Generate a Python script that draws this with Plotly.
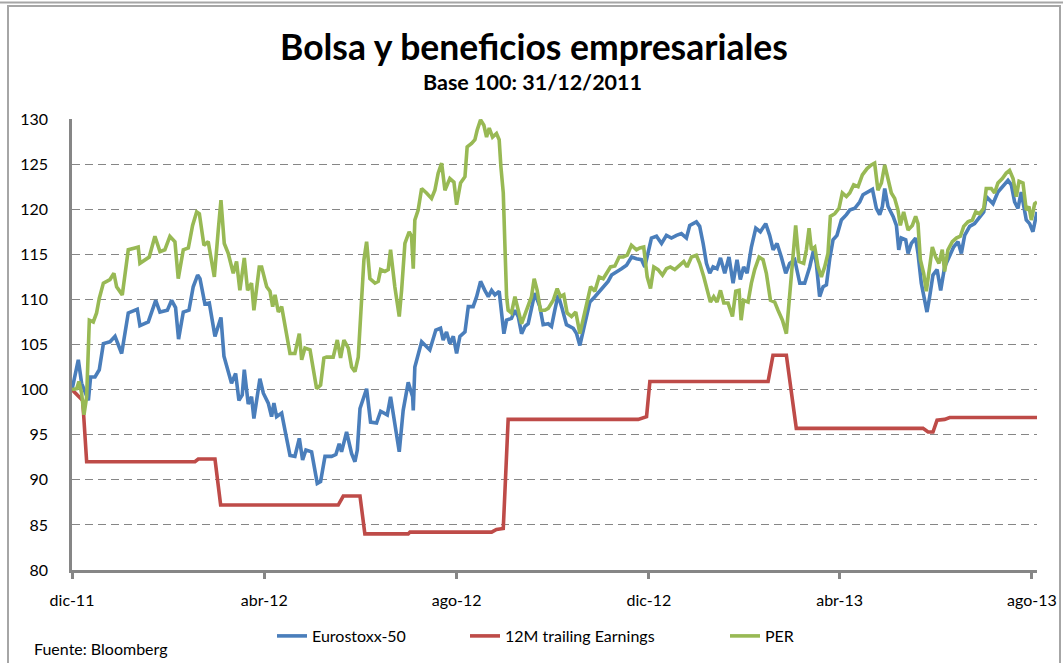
import pandas as pd
import plotly.graph_objects as go

# ---------------- DATA (days since 30/12/2011, index value, base 100) ----------------
start = pd.Timestamp("2011-12-30")

euro_days = [0, 4.0, 6.1, 10.4, 11.8, 14.6, 17.3, 19.9, 24.1, 27.3, 31.5, 35.7, 41.4, 43.1, 48.4, 53.1, 55.8,
             60.5, 63.2, 65.7, 67.6, 70.6, 74.2, 76.9, 79.7, 81.2, 84.3, 87.1, 90.7, 94.5, 96.4, 101.2, 103.8,
             105.9, 108.0, 109.3, 111.8, 113.9, 115.4, 119.2, 121.4, 124.5, 126.6, 128.1, 129.8, 133, 135.1,
             138.3, 141.4, 144.2, 146.3, 148.4, 152, 154.1, 155.6, 157.7, 160.5, 164.7, 167.4, 169.5, 171,
             174.2, 177.4, 179.5, 181, 182.7, 186.9, 189.4, 193.2, 195.8, 200, 202.1, 204.8, 207.6, 210.1,
             213.3, 216.1, 216.5, 217.5, 221.8, 227, 230.8, 233.8, 235.5, 237.6, 239.7, 241.9, 244, 246.1,
             249.3, 251.4, 254.5, 256.7, 259.2, 261.9, 264.1, 266.2, 268.3, 271, 272.5, 274, 275.7, 278.8,
             281, 283.1, 285.2, 287.3, 289.4, 291.5, 293.6, 296.8, 298.9, 302.1, 304.2, 306.3, 308.4, 310.6,
             313.7, 318, 320.1, 322.2, 325.4, 328.5, 331.7, 334.9, 337, 340.1, 342.3, 345.4, 348.6, 351.8,
             355, 358.1, 361.3, 363.4, 367.6, 370.8, 374, 377.1, 380.3, 383.5, 386.6, 389.8, 391.9, 396.1,
             398.2, 400.4, 402.5, 404.6, 406.7, 409.2, 411.4, 414.1, 416.8, 419.4, 421.9, 424, 426.1, 428.3,
             431, 433.8, 436.7, 440.1, 442.6, 444.8, 447.3, 450, 452.8, 455.3, 458.5, 461.7, 464.8, 468,
             470.5, 472.2, 474.3, 476.5, 478.6, 480.7, 482.8, 485.3, 488.1, 491.3, 493.4, 496.6, 499.7,
             501.8, 505, 507.8, 510.3, 512.4, 514.1, 515.6, 517.7, 520.9, 523, 524.5, 526.1, 528.9, 530.4,
             532.5, 535.2, 536.7, 538.8, 541, 542.4, 544.1, 546.2, 548.8, 551.1, 553.6, 556.4, 559.3, 562.1,
             564.2, 566.3, 569.5, 572.6, 576.2, 578.4, 580, 584.3, 587.4, 590.6, 593.8, 595.9, 598, 600.1,
             602.2, 605.4, 607.5, 609.6, 612.2]
euro_vals = [100.0, 103.3, 100.7, 98.8, 101.4, 101.4, 102.2, 105.1, 105.3, 105.9, 104.0, 108.5, 108.9, 107.1,
             107.5, 109.9, 108.6, 108.8, 109.9, 109.1, 105.6, 108.6, 108.8, 111.4, 112.7, 112.3, 109.5, 109.6,
             105.9, 108.0, 103.7, 100.7, 101.8, 98.8, 99.4, 102.2, 98.4, 99.2, 96.8, 101.2, 99.6, 98.5, 97.0,
             98.5, 97.0, 97.4, 95.5, 92.7, 92.6, 94.6, 92.2, 93.3, 93.1, 91.1, 89.6, 89.8, 92.6, 92.6, 92.8,
             94.0, 93.1, 95.3, 92.9, 92.0, 93.3, 97.9, 100.1, 96.4, 96.3, 97.6, 97.2, 99.2, 96.3, 93.1, 97.7,
             100.8, 99.2, 97.7, 102.5, 105.3, 104.4, 106.6, 106.8, 105.5, 106.4, 105.1, 105.9, 104.0, 105.9,
             106.4, 109.2, 109.2, 110.3, 112.0, 111.0, 110.3, 111.0, 110.5, 110.9, 108.1, 106.2, 107.7, 107.9,
             108.8, 108.1, 106.2, 107.0, 107.3, 108.8, 110.7, 109.2, 107.2, 107.3, 107.0, 108.8, 110.5, 109.2,
             107.2, 106.8, 106.2, 104.9, 107.3, 109.7, 110.3, 111.0, 111.4, 112.0, 112.7, 113.1, 113.4, 113.8,
             114.7, 114.5, 114.4, 113.6, 116.8, 117.0, 116.2, 117.1, 116.8, 117.1, 117.3, 116.8, 118.2, 118.6,
             118.1, 116.2, 114.0, 112.9, 113.6, 113.4, 114.6, 112.9, 114.7, 111.8, 114.4, 112.2, 113.6, 112.9,
             115.8, 117.9, 117.5, 118.4, 117.1, 115.5, 116.2, 114.7, 112.9, 114.0, 114.4, 111.8, 111.8, 113.6,
             115.5, 114.0, 110.3, 111.4, 111.6, 114.5, 116.6, 117.1, 118.8, 119.4, 119.9, 120.1, 120.8,
             121.6, 121.9, 122.2, 120.1, 119.4, 120.3, 122.3, 120.3, 119.2, 118.2, 115.5, 116.8, 116.6, 115.1,
             116.2, 116.8, 115.1, 111.8, 109.9, 108.6, 110.3, 112.7, 113.3, 111.0, 113.6, 114.7, 115.8, 116.4,
             115.1, 117.1, 118.1, 118.4, 119.2, 119.7, 121.4, 120.6, 121.9, 122.5, 123.2, 122.7, 120.8, 120.1,
             121.9, 118.8, 118.4, 117.5, 119.7]

earn_days = [0, 6.8, 9.3, 78, 80.1, 90.7, 94.3, 168.9, 172.1, 182.7, 185.8, 213.3, 214.4, 266.2, 269.3,
             273.6, 276.7, 359.2, 364.5, 366.6, 441.6, 444.7, 453.2, 459.5, 539.9, 543.1, 546.2, 548.8,
             553.6, 556.8, 612.2]
earn_vals = [100.0, 98.8, 92.0, 92.0, 92.3, 92.3, 87.2, 87.2, 88.2, 88.2, 84.0, 84.0, 84.2, 84.2, 84.5,
             84.6, 96.7, 96.7, 97.0, 100.9, 100.9, 103.8, 103.8, 95.7, 95.7, 95.3, 95.3, 96.6, 96.7, 96.9, 96.9]

per_days = [0, 3, 4.4, 6.1, 7.6, 9.3, 11, 13.5, 15.6, 17.3, 19.9, 24.1, 26.6, 28.3, 31.9, 33.6, 35.7, 39.9,
            42, 43.1, 46.3, 49, 52.6, 55.8, 58.9, 62.1, 65.3, 67.4, 70.6, 73.8, 76.5, 79.1, 80.8, 83.7, 86.4,
            90.3, 92.8, 94.5, 96.6, 99.1, 102.3, 104.4, 106.5, 109.3, 111.4, 113.9, 115.4, 118.8, 120.3,
            123.5, 125.6, 127.3, 128.8, 130.9, 133, 135.7, 138.3, 141.4, 144.2, 145.7, 147.8, 151, 153.1,
            155.2, 157.7, 159.8, 161.5, 165.7, 168.3, 170.4, 172.5, 175.3, 177.4, 179.5, 181.6, 183.1, 185.2,
            186.9, 189, 192.2, 194.3, 195.8, 198.5, 200.6, 202.1, 204.8, 207.6, 209.1, 211.2, 213.9, 215.4,
            216.5, 217.5, 219.6, 221.8, 224.9, 228.1, 230.2, 232.3, 234.5, 236.6, 239.7, 242.3, 244, 246.5,
            249.3, 250.7, 253.5, 255.6, 257.1, 259.2, 261.3, 263, 264.7, 266.8, 269.3, 271, 272.1, 273.6,
            274.6, 275.7, 276.7, 278.8, 281, 283.1, 285.2, 287.3, 289.4, 291.5, 293.2, 295.1, 297.2, 300,
            302.1, 305.3, 307.8, 309.9, 312, 314.1, 316.9, 319.6, 322.2, 324.3, 326.4, 329, 331.7, 334.4, 337,
            339.1, 341.6, 344.4, 347.1, 349.7, 352.2, 354.9, 358.1, 360.2, 362.7, 364.9, 367, 369.1, 371.8,
            374.6, 377.1, 379.6, 382.4, 385.6, 388.1, 390.2, 393, 396.1, 398.2, 400.8, 402.9, 405, 407.1,
            409.2, 411.4, 413.5, 416.2, 419, 421.1, 423.2, 424.5, 426.1, 428.9, 431, 433.1, 435.9, 438.4,
            440.5, 443.1, 445.8, 447.9, 450.7, 453.2, 455.3, 457.4, 459.1, 461.2, 464.2, 465.9, 467.6, 469.1,
            471.2, 473.3, 475.4, 477.5, 479.6, 481.1, 483.9, 486.6, 488.7, 491.3, 493.4, 495.9, 498.7, 501.4,
            504.4, 507.1, 509.2, 511.3, 513.5, 515.6, 517.7, 519.8, 521.9, 524, 525.5, 527.6, 530.4, 533.1,
            535.2, 536.7, 538.2, 540.3, 542, 544.1, 545.8, 547.9, 550, 552.1, 553.6, 555.7, 558.5, 561, 563.6,
            565.7, 568.4, 571.2, 573.3, 575.8, 578.4, 580, 583.2, 585.3, 587.4, 590.2, 592.7, 594.8, 597,
            599.1, 600.8, 603.3, 605.4, 607.1, 608.6, 610.7, 612.2]
per_vals = [100.0, 100.1, 100.9, 99.6, 97.2, 99.2, 107.7, 107.5, 108.5, 110.1, 111.8, 112.2, 112.9, 111.4,
            110.5, 112.9, 115.5, 115.7, 115.8, 114.0, 114.4, 114.7, 117.0, 115.3, 115.5, 117.0, 116.4, 112.3,
            115.5, 115.7, 118.2, 119.7, 119.5, 116.0, 116.4, 112.5, 117.7, 121.0, 116.2, 115.1, 112.9, 114.2,
            111.0, 114.6, 111.0, 111.8, 108.8, 113.6, 113.6, 111.4, 110.9, 109.2, 110.5, 108.6, 109.2, 106.6,
            104.0, 104.0, 106.2, 103.3, 104.6, 104.4, 102.5, 100.1, 100.5, 103.5, 103.6, 103.6, 105.5, 103.5,
            105.5, 104.6, 102.5, 102.0, 103.6, 108.8, 114.4, 116.4, 112.3, 111.8, 112.0, 113.3, 113.1, 113.3,
            115.5, 111.4, 108.1, 111.0, 116.2, 117.5, 117.0, 113.4, 118.8, 119.9, 122.3, 121.8, 121.2, 122.1,
            124.0, 125.1, 122.1, 123.4, 123.0, 120.5, 122.9, 123.6, 126.9, 127.3, 127.7, 128.8, 129.9, 129.3,
            128.0, 129.0, 128.0, 128.4, 127.7, 124.7, 121.8, 116.2, 110.3, 108.8, 108.5, 110.3, 108.8, 107.3,
            108.3, 109.2, 110.3, 112.3, 111.0, 108.8, 108.8, 109.0, 109.9, 111.2, 110.3, 110.5, 108.5, 108.1,
            108.6, 106.2, 107.7, 109.6, 111.4, 110.9, 112.5, 112.3, 112.9, 113.6, 113.7, 114.7, 114.7, 114.9,
            116.0, 115.5, 115.7, 115.8, 112.5, 111.2, 113.6, 113.3, 112.7, 113.4, 113.6, 113.3, 113.8, 114.2,
            113.6, 114.7, 114.9, 114.0, 112.5, 111.0, 109.7, 110.3, 109.7, 111.0, 109.6, 109.6, 108.1, 110.9,
            111.0, 107.7, 109.9, 109.7, 111.8, 113.3, 114.7, 114.4, 112.9, 109.9, 109.7, 108.8, 107.7, 106.2,
            110.3, 115.5, 118.2, 114.2, 114.0, 115.5, 117.9, 115.5, 115.8, 113.6, 112.5, 113.6, 115.1, 119.2,
            119.5, 120.1, 121.8, 121.4, 121.8, 122.7, 122.5, 123.8, 124.5, 124.9, 125.1, 122.1, 122.9, 124.9,
            123.2, 121.8, 121.2, 119.9, 118.2, 119.7, 117.7, 118.2, 119.2, 118.4, 114.4, 112.9, 110.9, 113.3,
            115.8, 114.7, 114.0, 115.5, 113.1, 115.5, 116.4, 116.8, 117.0, 118.1, 118.6, 118.8, 119.7, 119.5,
            120.1, 122.3, 122.3, 121.8, 122.9, 123.4, 124.0, 124.3, 123.4, 121.4, 123.1, 122.9, 119.9, 120.3,
            118.8, 120.6, 120.8]

series_names = ["Eurostoxx-50", "12M trailing Earnings", "PER"]
tick_days = [0, 122, 244, 366, 487, 609]
tick_labels = ["dic-11", "abr-12", "ago-12", "dic-12", "abr-13", "ago-13"]
x_end_day = 612.2

title_text = "Bolsa y beneficios empresariales"
subtitle_text = "Base 100: 31/12/2011"
source_text = "Fuente: Bloomberg"

# ---------------- FIGURE ----------------
def to_dates(days):
    return [start + pd.Timedelta(days=float(d)) for d in days]

W, H = 1063, 663
L, R, T, B = 72, 26, 119, 93
PW, PH = W - L - R, H - T - B

def px(xp):
    return (xp - L) / PW

def py(yp):
    return (H - B - yp) / PH

FONT = "Lato, 'Open Sans', sans-serif"
colors = ["#4A7EBB", "#BE4B48", "#98B954"]
LW = 3.6

fig = go.Figure()
fig.add_trace(go.Scatter(x=to_dates(euro_days), y=euro_vals, mode="lines", name=series_names[0],
                         line=dict(color=colors[0], width=LW), legend="legend"))
fig.add_trace(go.Scatter(x=to_dates(earn_days), y=earn_vals, mode="lines", name=series_names[1],
                         line=dict(color=colors[1], width=LW), legend="legend2"))
fig.add_trace(go.Scatter(x=to_dates(per_days), y=per_vals, mode="lines", name=series_names[2],
                         line=dict(color=colors[2], width=LW), legend="legend3"))

leg_common = dict(orientation="h", yanchor="middle", xanchor="left", bgcolor="rgba(0,0,0,0)",
                  font=dict(family=FONT, size=16, color="#000"))

fig.update_layout(
    width=W, height=H,
    margin=dict(l=L, r=R, t=T, b=B, autoexpand=False),
    paper_bgcolor="white", plot_bgcolor="white",
    showlegend=True,
    legend=dict(x=px(272), y=py(636), **leg_common),
    legend2=dict(x=px(465), y=py(636), **leg_common),
    legend3=dict(x=px(725), y=py(636), **leg_common),
    xaxis=dict(type="date", range=[start, start + pd.Timedelta(days=x_end_day)],
               tickvals=to_dates(tick_days), ticktext=tick_labels,
               showgrid=False, zeroline=False, showline=True, linecolor="#868686", linewidth=2.5,
               ticks="outside", ticklen=6, tickwidth=2.5, tickcolor="#868686",
               ticklabelstandoff=8,
               tickfont=dict(family=FONT, size=16, color="#000")),
    yaxis=dict(range=[80, 130], dtick=5, tick0=80,
               showgrid=True, gridcolor="#868686", gridwidth=1.4, griddash="8px,5px",
               zeroline=False, showline=True, linecolor="#868686", linewidth=2.5,
               ticks="", ticklabelstandoff=18,
               tickfont=dict(family=FONT, size=16, color="#000")),
    shapes=[
        dict(type="rect", xref="paper", yref="paper", x0=px(8), x1=px(1060), y0=py(700), y1=py(6),
             line=dict(color="#a6a6a6", width=2), layer="below"),
        dict(type="line", xref="paper", yref="paper", x0=px(0), x1=px(1063), y0=py(2.5), y1=py(2.5),
             line=dict(color="#a6a6a6", width=2)),
    ],
    annotations=[
        dict(text="<b>" + title_text + "</b>", xref="paper", yref="paper", x=px(534), y=py(46),
             xanchor="center", yanchor="middle", showarrow=False,
             font=dict(family=FONT, size=35.5, color="#000")),
        dict(text="<b>" + subtitle_text + "</b>", xref="paper", yref="paper", x=px(532), y=py(82),
             xanchor="center", yanchor="middle", showarrow=False,
             font=dict(family=FONT, size=21.5, color="#000")),
        dict(text=source_text, xref="paper", yref="paper", x=px(32), y=py(648),
             xanchor="left", yanchor="middle", showarrow=False,
             font=dict(family=FONT, size=16, color="#000")),
    ],
)

# the page's default body margin would shift the figure by 8 px; remove it
fig.write_html("out.html", config={"displayModeBar": False},
               post_script="document.body.style.margin='0px';document.body.style.overflow='hidden';")
